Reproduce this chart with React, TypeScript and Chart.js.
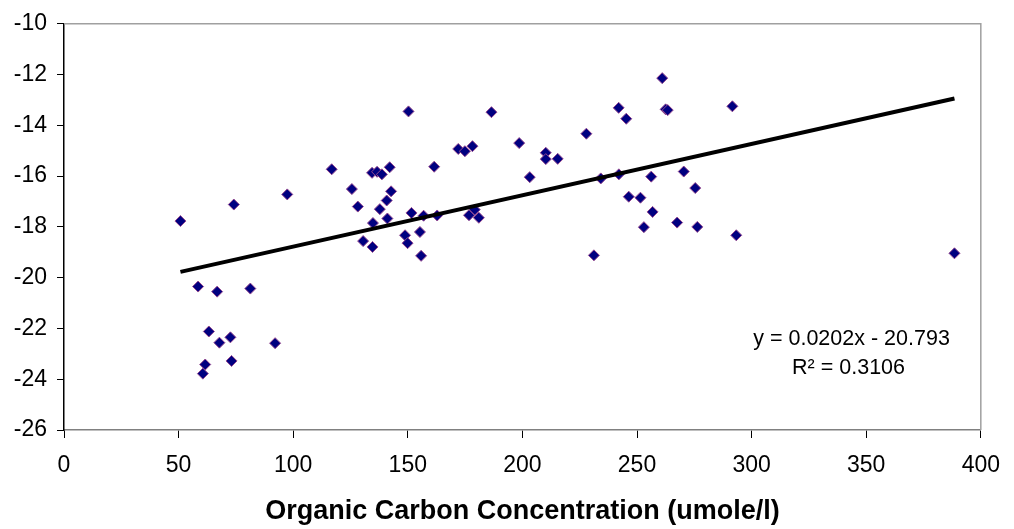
import React, { useEffect, useRef } from 'react';
import { Chart, registerables } from 'chart.js';

Chart.register(...registerables);

// Organic carbon concentration (umole/l)
const xValues = [
  50.8, 74.1, 97.4, 116.8, 125.6, 128.2, 130.5, 134.6, 134.4, 136.6,
  138.7, 142.1, 142.7, 140.8, 137.8, 141.1, 134.8, 58.5, 66.8, 81.3,
  63.2, 67.8, 72.6, 92.1, 61.6, 60.6, 73.1, 151.6, 148.8, 149.9,
  150.3, 186.5, 156.9, 162.8, 161.5, 172.0, 174.9, 178.2, 176.7, 179.2,
  181.0, 155.3, 155.8, 198.6, 203.2, 210.2, 210.2, 215.4, 227.9, 231.2,
  234.2, 242.0, 245.3, 242.1, 246.4, 251.5, 256.2, 256.8, 253.0, 261.0,
  262.5, 263.4, 291.6, 270.4, 275.4, 267.5, 276.3, 293.3, 388.5,
];
// Measured values (y axis)
const yValues = [
  -17.77, -17.12, -16.72, -15.73, -16.51, -17.2, -18.56, -18.79, -15.87, -15.83,
  -15.93, -15.65, -16.6, -16.96, -17.3, -17.67, -17.85, -20.35, -20.55, -20.43,
  -22.12, -22.56, -22.35, -22.58, -23.42, -23.78, -23.28, -17.45, -18.33, -18.64,
  -13.45, -13.48, -17.56, -17.55, -15.63, -14.93, -15.02, -14.82, -17.54, -17.32,
  -17.64, -18.2, -19.14, -14.7, -16.04, -15.08, -15.33, -15.32, -14.33, -19.12,
  -16.09, -13.31, -13.74, -15.93, -16.81, -16.85, -16.02, -17.41, -18.01, -12.14,
  -13.37, -13.4, -13.25, -15.82, -16.47, -17.83, -18.0, -18.33, -19.04,
];

// Linear trend line end points
const trendX = [50.8, 388.5];
const trendY = [-19.77, -12.94];

const xTicks = [0, 50, 100, 150, 200, 250, 300, 350, 400];
const yTicks = [-26, -24, -22, -20, -18, -16, -14, -12, -10];

const xTitle = 'Organic Carbon Concentration (umole/l)';
const equationLabel = 'y = 0.0202x - 20.793';
const r2Label = 'R² = 0.3106';
// label anchor positions in data units
const eqPosX = [343.6, 342.3];
const eqPosY = [-22.41, -23.57];

const FONT = '"Liberation Sans", Arial, Helvetica, sans-serif';

const framePlugin = {
  id: 'framePlugin',
  afterDraw(chart: any) {
    const { ctx, chartArea } = chart;
    const { left, top, right, bottom } = chartArea;
    ctx.save();
    ctx.strokeStyle = '#a0a0a0';
    ctx.lineWidth = 1.5;
    ctx.beginPath();
    ctx.moveTo(left, top);
    ctx.lineTo(right, top);
    ctx.lineTo(right, bottom);
    ctx.stroke();

    const xs = chart.scales.x;
    const ys = chart.scales.y;
    ctx.fillStyle = '#000';
    ctx.font = `21.5px ${FONT}`;
    ctx.textAlign = 'center';
    ctx.textBaseline = 'middle';
    ctx.fillText(equationLabel, xs.getPixelForValue(eqPosX[0]), ys.getPixelForValue(eqPosY[0]));
    ctx.fillText(r2Label, xs.getPixelForValue(eqPosX[1]), ys.getPixelForValue(eqPosY[1]));
    ctx.restore();
  },
};

export default function App() {
  const canvasRef = useRef<HTMLCanvasElement | null>(null);

  useEffect(() => {
    if (!canvasRef.current) return;
    const points = xValues.map((x, i) => ({ x, y: yValues[i] }));
    const trend = trendX.map((x, i) => ({ x, y: trendY[i] }));

    const chart = new Chart(canvasRef.current, {
      type: 'scatter',
      data: {
        datasets: [
          {
            type: 'line',
            label: 'Trend',
            data: trend,
            borderColor: '#000',
            borderWidth: 4,
            pointRadius: 0,
            fill: false,
            order: 0,
          } as any,
          {
            label: 'Data',
            data: points,
            pointStyle: 'rectRot',
            pointRadius: 5.5,
            pointBackgroundColor: '#000080',
            pointBorderColor: '#94488f',
            pointBorderWidth: 1,
            order: 1,
          },
        ],
      },
      plugins: [framePlugin],
      options: {
        responsive: false,
        animation: false,
        events: [],
        layout: { padding: { top: 15, right: 22, left: 0, bottom: 0 } },
        plugins: {
          legend: { display: false },
          tooltip: { enabled: false },
        },
        scales: {
          x: {
            type: 'linear',
            min: 0,
            max: 400,
            afterBuildTicks: (s: any) => {
              s.ticks = xTicks.map((v) => ({ value: v }));
            },
            afterFit: (s: any) => {
              s.height = 99;
            },
            border: { color: '#808080', width: 1.5 },
            grid: { drawOnChartArea: false, drawTicks: true, tickLength: 8, color: '#000' },
            ticks: {
              color: '#000',
              font: { family: FONT, size: 23 },
              padding: 14,
              maxRotation: 0,
            },
            title: {
              display: true,
              text: xTitle,
              color: '#000',
              font: { family: FONT, size: 27, weight: 'bold' },
              padding: { top: 0, bottom: 1 },
            },
          },
          y: {
            type: 'linear',
            min: -26,
            max: -10,
            afterBuildTicks: (s: any) => {
              s.ticks = yTicks.map((v) => ({ value: v }));
            },
            afterFit: (s: any) => {
              s.width = 64;
            },
            border: { color: '#000', width: 1.5 },
            grid: { drawOnChartArea: false, drawTicks: true, tickLength: 7, color: '#000' },
            ticks: {
              color: '#000',
              font: { family: FONT, size: 23 },
              padding: 10,
            },
          },
        },
      },
    });
    return () => chart.destroy();
  }, []);

  return (
    <div style={{ position: 'absolute', left: 0, top: 0, width: 1014, height: 529, background: '#fff' }}>
      <canvas ref={canvasRef} width={1014} height={529} style={{ display: 'block' }} />
    </div>
  );
}
